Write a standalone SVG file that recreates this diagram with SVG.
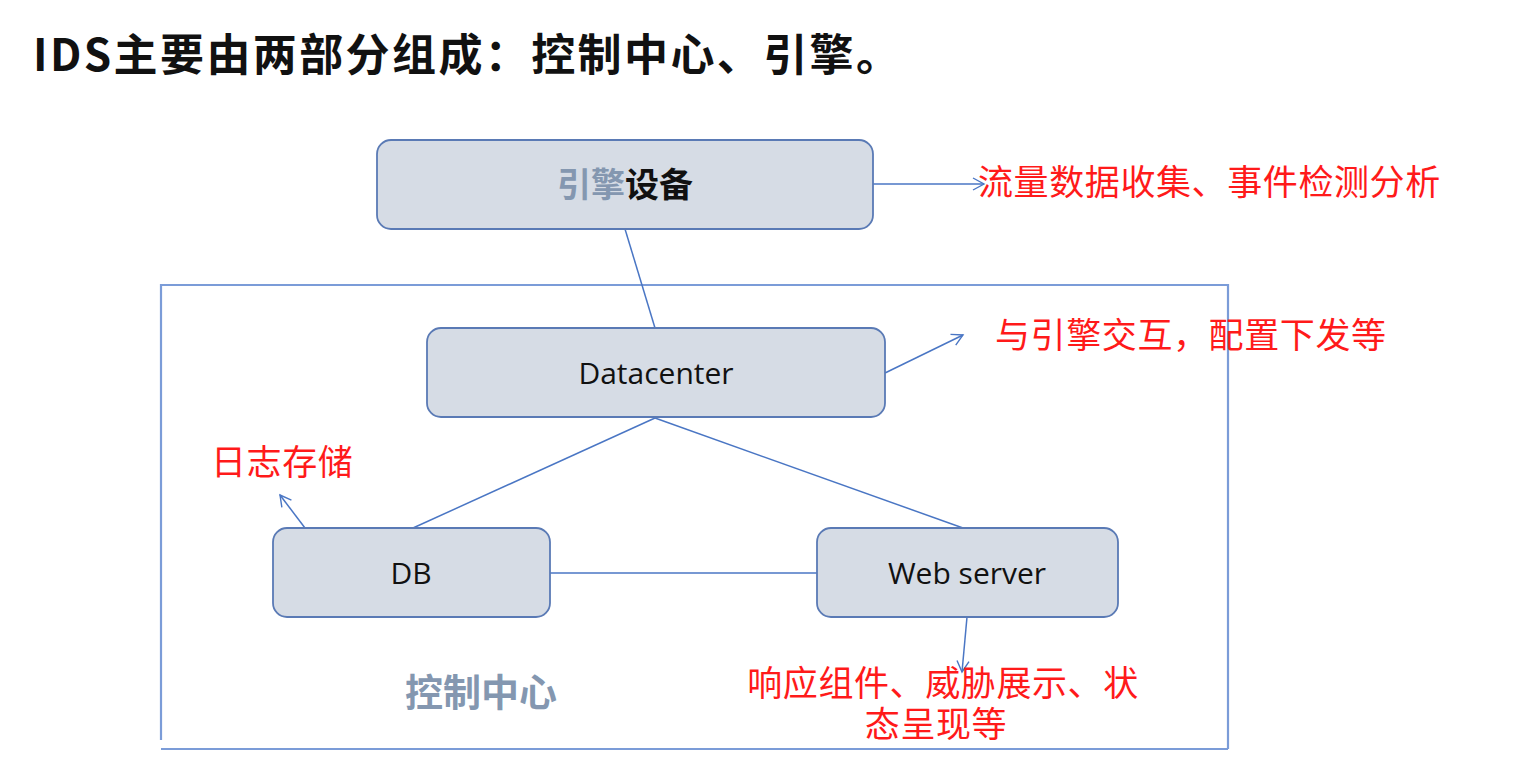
<svg xmlns="http://www.w3.org/2000/svg" width="1526" height="766" viewBox="0 0 1526 766">
<defs>
<marker id="arr" markerWidth="14" markerHeight="14" refX="12" refY="7" orient="auto" markerUnits="userSpaceOnUse">
<path d="M1,1 L12,7 L1,13" fill="none" stroke="#4a76c4" stroke-width="1.4"/>
</marker>
</defs>
<style>
.box{fill:#d6dce5;stroke:#5a7ab5;stroke-width:1.8}
.lbl{font-family:"Open Sans","Noto Sans","Liberation Sans",sans-serif;font-size:30px;fill:#111;text-anchor:middle}
.red{font-family:"Noto Sans CJK SC",sans-serif;font-size:35px;fill:#ff1a1a;letter-spacing:0.6px}
.con{stroke:#4a76c4;stroke-width:1.5;fill:none}
.frame{stroke:#7b9cd8;stroke-width:2.2;fill:none}
</style>
<rect width="1526" height="766" fill="#fff"/>
<text x="33" y="71" font-family="'Noto Sans CJK SC',sans-serif" font-size="44" font-weight="bold" letter-spacing="2.4" fill="#111">IDS主要由两部分组成：控制中心、引擎。</text>
<g id="frame">
<path class="frame" d="M161,740 V285 H1228 V749"/>
<path class="frame" d="M161,749 H1228"/>
<text x="405" y="706" font-family="'Noto Sans CJK SC',sans-serif" font-size="38" font-weight="bold" fill="#8497b0">控制中心</text>
</g>
<g id="connectors">
<line class="con" x1="625" y1="229" x2="655" y2="328"/>
<line class="con" x1="873" y1="184" x2="984" y2="184" marker-end="url(#arr)"/>
<line class="con" x1="885" y1="373" x2="963" y2="335" marker-end="url(#arr)"/>
<line class="con" x1="655" y1="418" x2="413" y2="528"/>
<line class="con" x1="655" y1="418" x2="963" y2="528"/>
<line class="con" x1="305" y1="528" x2="280" y2="495" marker-end="url(#arr)"/>
<line class="con" x1="550" y1="573" x2="817" y2="573"/>
<line class="con" x1="967" y1="617" x2="962" y2="672" marker-end="url(#arr)"/>
</g>
<g id="engine">
<rect class="box" x="377" y="140" width="496" height="89" rx="14"/>
<text x="625" y="197" text-anchor="middle" font-family="'Noto Sans CJK SC',sans-serif" font-size="34" font-weight="bold"><tspan fill="#8497b0">引擎</tspan><tspan fill="#111">设备</tspan></text>
<text class="red" x="978" y="195">流量数据收集、事件检测分析</text>
</g>
<g id="datacenter">
<rect class="box" x="427" y="328" width="458" height="89" rx="14"/>
<text class="lbl" x="656" y="384">Datacenter</text>
<text class="red" x="995" y="348">与引擎交互，配置下发等</text>
</g>
<g id="db">
<rect class="box" x="273" y="528" width="277" height="89" rx="14"/>
<text class="lbl" x="411" y="584">DB</text>
<text class="red" x="211" y="475">日志存储</text>
</g>
<g id="webserver">
<rect class="box" x="817" y="528" width="301" height="89" rx="14"/>
<text class="lbl" x="967" y="584">Web server</text>
<text class="red" text-anchor="middle"><tspan x="943" y="696">响应组件、威胁展示、状</tspan><tspan x="936" y="737">态呈现等</tspan></text>
</g>
</svg>
